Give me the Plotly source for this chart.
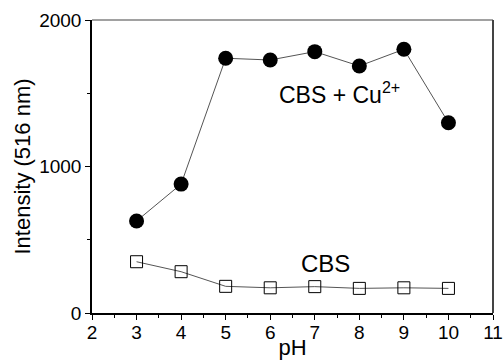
import plotly.graph_objects as go

ph = [3, 4, 5, 6, 7, 8, 9, 10]
cbs_cu = [628, 880, 1739, 1727, 1784, 1686, 1800, 1299]
cbs = [350, 282, 182, 172, 180, 168, 172, 168]

x_ticks = [2, 3, 4, 5, 6, 7, 8, 9, 10, 11]
y_ticks = [0, 1000, 2000]

FONT = "Arial, Liberation Sans, sans-serif"

fig = go.Figure()
fig.add_trace(go.Scatter(
    x=ph, y=cbs_cu, mode="lines+markers",
    line=dict(color="#555555", width=1),
    marker=dict(symbol="circle", size=15, color="black"),
    showlegend=False))
fig.add_trace(go.Scatter(
    x=ph, y=cbs, mode="lines+markers",
    line=dict(color="#555555", width=1),
    marker=dict(symbol="square-open", size=12, color="black", line=dict(width=1)),
    showlegend=False))

fig.add_annotation(x=7.55, y=1502, text="CBS + Cu<sup>2+</sup>", showarrow=False,
                   font=dict(family=FONT, size=23, color="black"))
fig.add_annotation(x=7.23, y=341, text="CBS", showarrow=False,
                   font=dict(family=FONT, size=24, color="black"))

fig.update_xaxes(
    range=[2, 11], tickvals=x_ticks, ticktext=[str(v) for v in x_ticks],
    ticks="outside", ticklen=5, tickwidth=1, tickcolor="black",
    ticklabelstandoff=-4,
    minor=dict(dtick=0.5, ticks="outside", ticklen=3, tickcolor="black"),
    showline=True, linecolor="black", linewidth=1.5, mirror=False,
    showgrid=False, zeroline=False, automargin=False,
    title=dict(text="pH", font=dict(family=FONT, size=22, color="black"), standoff=0),
    tickfont=dict(family=FONT, size=19, color="black"))
fig.update_yaxes(
    range=[0, 2000], tickvals=y_ticks, ticktext=[str(v) for v in y_ticks],
    ticks="outside", ticklen=5, tickwidth=1, tickcolor="black",
    minor=dict(dtick=500, ticks="outside", ticklen=3, tickcolor="black"),
    showline=True, linecolor="black", linewidth=1.5, mirror=False,
    showgrid=False, zeroline=False, automargin=False,
    title=dict(text="Intensity (516 nm)", font=dict(family=FONT, size=22, color="black"), standoff=2),
    tickfont=dict(family=FONT, size=19, color="black"))

# top and right frame lines
fig.add_shape(type="line", xref="paper", yref="paper", x0=0, x1=1, y0=1, y1=1,
              line=dict(color="#444444", width=1.2))
fig.add_shape(type="line", xref="paper", yref="paper", x0=1, x1=1, y0=0, y1=1,
              line=dict(color="#444444", width=2))

fig.update_layout(
    width=503, height=360,
    margin=dict(l=92, r=10, t=20, b=47),
    paper_bgcolor="white", plot_bgcolor="white",
    font=dict(family=FONT, color="black"))

fig.write_html("out.html", config={"displayModeBar": False},
               post_script="document.body.style.margin='0px';")
